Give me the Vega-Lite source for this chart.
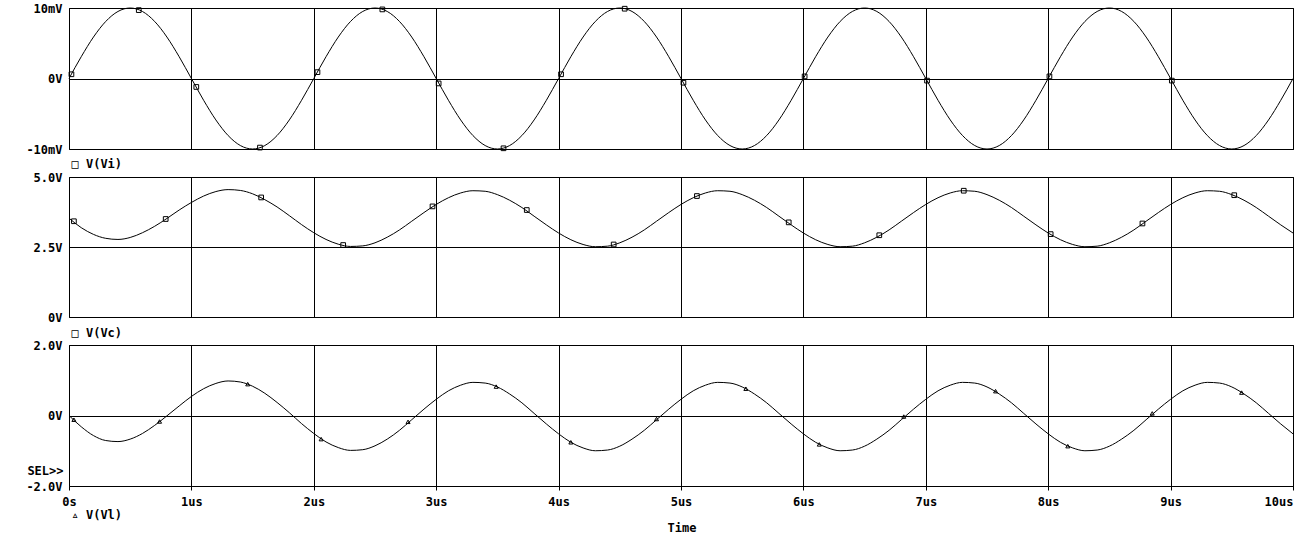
{
  "$schema": "https://vega.github.io/schema/vega-lite/v6.json",
  "background": "white",
  "padding": {"left": 8, "top": 1, "right": 8, "bottom": 0},
  "autosize": {"type": "pad"},
  "bounds": "flush",
  "spacing": 28,
  "title": {"text": "Time", "orient": "bottom", "anchor": "middle", "font": "DejaVu Sans Mono", "fontSize": 12, "fontWeight": "bold", "color": "black", "offset": 2, "dx": 30},
  "config": {
    "view": {"stroke": "black", "strokeWidth": 1},
    "axis": {
      "labelFont": "DejaVu Sans Mono", "labelFontWeight": "bold", "labelFontSize": 12, "labelColor": "black",
      "titleFont": "DejaVu Sans Mono", "titleFontWeight": "bold", "titleFontSize": 12, "titleColor": "black",
      "gridColor": "black", "gridOpacity": 1, "gridWidth": 1, "domain": false, "ticks": false
    }
  },
  "datasets": {
    "sig": [
      {"t":0.0,"vi":0,"vc":3.53,"vl":0.00},
      {"t":0.1,"vi":3.09,"vc":3.19,"vl":-0.32},
      {"t":0.2,"vi":5.88,"vc":2.95,"vl":-0.57},
      {"t":0.3,"vi":8.09,"vc":2.81,"vl":-0.71},
      {"t":0.4,"vi":9.51,"vc":2.77,"vl":-0.74},
      {"t":0.5,"vi":10,"vc":2.84,"vl":-0.67},
      {"t":0.6,"vi":9.51,"vc":3.01,"vl":-0.51},
      {"t":0.7,"vi":8.09,"vc":3.24,"vl":-0.28},
      {"t":0.8,"vi":5.88,"vc":3.52,"vl":-0.01},
      {"t":0.9,"vi":3.09,"vc":3.82,"vl":0.27},
      {"t":1.0,"vi":0,"vc":4.09,"vl":0.54},
      {"t":1.1,"vi":-3.09,"vc":4.32,"vl":0.76},
      {"t":1.2,"vi":-5.88,"vc":4.48,"vl":0.91},
      {"t":1.3,"vi":-8.09,"vc":4.55,"vl":0.98},
      {"t":1.4,"vi":-9.51,"vc":4.52,"vl":0.95},
      {"t":1.5,"vi":-10,"vc":4.40,"vl":0.83},
      {"t":1.6,"vi":-9.51,"vc":4.19,"vl":0.63},
      {"t":1.7,"vi":-8.09,"vc":3.93,"vl":0.37},
      {"t":1.8,"vi":-5.88,"vc":3.62,"vl":0.08},
      {"t":1.9,"vi":-3.09,"vc":3.30,"vl":-0.23},
      {"t":2.0,"vi":0,"vc":3.01,"vl":-0.51},
      {"t":2.1,"vi":3.09,"vc":2.77,"vl":-0.75},
      {"t":2.2,"vi":5.88,"vc":2.60,"vl":-0.91},
      {"t":2.3,"vi":8.09,"vc":2.52,"vl":-0.99},
      {"t":2.4,"vi":9.51,"vc":2.54,"vl":-0.97},
      {"t":2.5,"vi":10,"vc":2.65,"vl":-0.86},
      {"t":2.6,"vi":9.51,"vc":2.85,"vl":-0.67},
      {"t":2.7,"vi":8.09,"vc":3.11,"vl":-0.42},
      {"t":2.8,"vi":5.88,"vc":3.42,"vl":-0.12},
      {"t":2.9,"vi":3.09,"vc":3.73,"vl":0.18},
      {"t":3.0,"vi":0,"vc":4.02,"vl":0.46},
      {"t":3.1,"vi":-3.09,"vc":4.26,"vl":0.70},
      {"t":3.2,"vi":-5.88,"vc":4.43,"vl":0.86},
      {"t":3.3,"vi":-8.09,"vc":4.51,"vl":0.94},
      {"t":3.4,"vi":-9.51,"vc":4.49,"vl":0.92},
      {"t":3.5,"vi":-10,"vc":4.37,"vl":0.81},
      {"t":3.6,"vi":-9.51,"vc":4.17,"vl":0.61},
      {"t":3.7,"vi":-8.09,"vc":3.91,"vl":0.36},
      {"t":3.8,"vi":-5.88,"vc":3.60,"vl":0.06},
      {"t":3.9,"vi":-3.09,"vc":3.29,"vl":-0.24},
      {"t":4.0,"vi":0,"vc":3.00,"vl":-0.52},
      {"t":4.1,"vi":3.09,"vc":2.76,"vl":-0.76},
      {"t":4.2,"vi":5.88,"vc":2.59,"vl":-0.92},
      {"t":4.3,"vi":8.09,"vc":2.51,"vl":-1.00},
      {"t":4.4,"vi":9.51,"vc":2.53,"vl":-0.98},
      {"t":4.5,"vi":10,"vc":2.65,"vl":-0.87},
      {"t":4.6,"vi":9.51,"vc":2.85,"vl":-0.67},
      {"t":4.7,"vi":8.09,"vc":3.11,"vl":-0.42},
      {"t":4.8,"vi":5.88,"vc":3.42,"vl":-0.12},
      {"t":4.9,"vi":3.09,"vc":3.73,"vl":0.18},
      {"t":5.0,"vi":0,"vc":4.02,"vl":0.46},
      {"t":5.1,"vi":-3.09,"vc":4.26,"vl":0.70},
      {"t":5.2,"vi":-5.88,"vc":4.43,"vl":0.86},
      {"t":5.3,"vi":-8.09,"vc":4.51,"vl":0.94},
      {"t":5.4,"vi":-9.51,"vc":4.49,"vl":0.92},
      {"t":5.5,"vi":-10,"vc":4.37,"vl":0.81},
      {"t":5.6,"vi":-9.51,"vc":4.17,"vl":0.61},
      {"t":5.7,"vi":-8.09,"vc":3.91,"vl":0.36},
      {"t":5.8,"vi":-5.88,"vc":3.60,"vl":0.06},
      {"t":5.9,"vi":-3.09,"vc":3.29,"vl":-0.24},
      {"t":6.0,"vi":0,"vc":3.00,"vl":-0.52},
      {"t":6.1,"vi":3.09,"vc":2.76,"vl":-0.76},
      {"t":6.2,"vi":5.88,"vc":2.59,"vl":-0.92},
      {"t":6.3,"vi":8.09,"vc":2.51,"vl":-1.00},
      {"t":6.4,"vi":9.51,"vc":2.53,"vl":-0.98},
      {"t":6.5,"vi":10,"vc":2.65,"vl":-0.87},
      {"t":6.6,"vi":9.51,"vc":2.85,"vl":-0.67},
      {"t":6.7,"vi":8.09,"vc":3.11,"vl":-0.42},
      {"t":6.8,"vi":5.88,"vc":3.42,"vl":-0.12},
      {"t":6.9,"vi":3.09,"vc":3.73,"vl":0.18},
      {"t":7.0,"vi":0,"vc":4.02,"vl":0.46},
      {"t":7.1,"vi":-3.09,"vc":4.26,"vl":0.70},
      {"t":7.2,"vi":-5.88,"vc":4.43,"vl":0.86},
      {"t":7.3,"vi":-8.09,"vc":4.51,"vl":0.94},
      {"t":7.4,"vi":-9.51,"vc":4.49,"vl":0.92},
      {"t":7.5,"vi":-10,"vc":4.37,"vl":0.81},
      {"t":7.6,"vi":-9.51,"vc":4.17,"vl":0.61},
      {"t":7.7,"vi":-8.09,"vc":3.91,"vl":0.36},
      {"t":7.8,"vi":-5.88,"vc":3.60,"vl":0.06},
      {"t":7.9,"vi":-3.09,"vc":3.29,"vl":-0.24},
      {"t":8.0,"vi":0,"vc":3.00,"vl":-0.52},
      {"t":8.1,"vi":3.09,"vc":2.76,"vl":-0.76},
      {"t":8.2,"vi":5.88,"vc":2.59,"vl":-0.92},
      {"t":8.3,"vi":8.09,"vc":2.51,"vl":-1.00},
      {"t":8.4,"vi":9.51,"vc":2.53,"vl":-0.98},
      {"t":8.5,"vi":10,"vc":2.65,"vl":-0.87},
      {"t":8.6,"vi":9.51,"vc":2.85,"vl":-0.67},
      {"t":8.7,"vi":8.09,"vc":3.11,"vl":-0.42},
      {"t":8.8,"vi":5.88,"vc":3.42,"vl":-0.12},
      {"t":8.9,"vi":3.09,"vc":3.73,"vl":0.18},
      {"t":9.0,"vi":0,"vc":4.02,"vl":0.46},
      {"t":9.1,"vi":-3.09,"vc":4.26,"vl":0.70},
      {"t":9.2,"vi":-5.88,"vc":4.43,"vl":0.86},
      {"t":9.3,"vi":-8.09,"vc":4.51,"vl":0.94},
      {"t":9.4,"vi":-9.51,"vc":4.49,"vl":0.92},
      {"t":9.5,"vi":-10,"vc":4.37,"vl":0.81},
      {"t":9.6,"vi":-9.51,"vc":4.17,"vl":0.61},
      {"t":9.7,"vi":-8.09,"vc":3.91,"vl":0.36},
      {"t":9.8,"vi":-5.88,"vc":3.60,"vl":0.06},
      {"t":9.9,"vi":-3.09,"vc":3.29,"vl":-0.24},
      {"t":10.0,"vi":0,"vc":3.00,"vl":-0.52}
    ],
    "mvi": [
      {"t":0.02,"vi":0.6},{"t":0.57,"vi":9.7},{"t":1.04,"vi":-1.2},{"t":1.56,"vi":-9.8},
      {"t":2.03,"vi":0.9},{"t":2.56,"vi":9.8},{"t":3.02,"vi":-0.7},{"t":3.55,"vi":-9.9},
      {"t":4.02,"vi":0.6},{"t":4.54,"vi":9.9},{"t":5.02,"vi":-0.6},{"t":6.01,"vi":0.3},
      {"t":7.01,"vi":-0.3},{"t":8.01,"vi":0.3},{"t":9.01,"vi":-0.3}
    ],
    "mvc": [
      {"t":0.04,"vc":3.42},{"t":0.79,"vc":3.50},{"t":1.57,"vc":4.27},{"t":2.24,"vc":2.57},
      {"t":2.97,"vc":3.95},{"t":3.74,"vc":3.82},{"t":4.45,"vc":2.59},{"t":5.13,"vc":4.32},
      {"t":5.88,"vc":3.38},{"t":6.62,"vc":2.92},{"t":7.31,"vc":4.51},{"t":8.02,"vc":2.96},
      {"t":8.77,"vc":3.34},{"t":9.52,"vc":4.35}
    ],
    "mvl": [
      {"t":0.04,"vl":-0.12},{"t":0.74,"vl":-0.17},{"t":1.46,"vl":0.89},{"t":2.06,"vl":-0.67},
      {"t":2.77,"vl":-0.18},{"t":3.49,"vl":0.82},{"t":4.10,"vl":-0.76},{"t":4.80,"vl":-0.10},
      {"t":5.53,"vl":0.76},{"t":6.13,"vl":-0.82},{"t":6.82,"vl":-0.03},{"t":7.57,"vl":0.69},
      {"t":8.16,"vl":-0.87},{"t":8.85,"vl":0.06},{"t":9.58,"vl":0.65}
    ]
  },
  "vconcat": [
    {
      "width": 1224, "height": 141,
      "encoding": {
        "x": {"field": "t", "type": "quantitative", "scale": {"domain": [0, 10], "nice": false, "zero": false},
              "axis": {"values": [0,1,2,3,4,5,6,7,8,9,10], "grid": true, "labels": false, "title": "□ V(Vi)", "titleAnchor": "start", "titleAlign": "left", "titleBaseline": "middle", "titleX": 2, "titleY": 14}},
        "y": {"field": "vi", "type": "quantitative", "scale": {"domain": [-10, 10], "nice": false},
              "axis": {"values": [-10, 0, 10], "grid": true, "title": null, "labelPadding": 7, "minExtent": 60, "maxExtent": 60,
                       "labelExpr": "datum.value == 0 ? '0V' : datum.value + 'mV'"}}
      },
      "layer": [
        {"data": {"name": "sig"}, "mark": {"type": "line", "color": "black", "strokeWidth": 1, "interpolate": "monotone"}},
        {"data": {"name": "mvi"}, "mark": {"type": "point", "shape": "square", "filled": false, "color": "black", "size": 22, "strokeWidth": 1, "opacity": 1}}
      ]
    },
    {
      "width": 1224, "height": 140,
      "encoding": {
        "x": {"field": "t", "type": "quantitative", "scale": {"domain": [0, 10], "nice": false, "zero": false},
              "axis": {"values": [0,1,2,3,4,5,6,7,8,9,10], "grid": true, "labels": false, "title": "□ V(Vc)", "titleAnchor": "start", "titleAlign": "left", "titleBaseline": "middle", "titleX": 2, "titleY": 15}},
        "y": {"field": "vc", "type": "quantitative", "scale": {"domain": [0, 5], "nice": false, "zero": false},
              "axis": {"values": [0, 2.5, 5], "grid": true, "title": null, "labelPadding": 7, "minExtent": 60, "maxExtent": 60,
                       "labelExpr": "datum.value == 0 ? '0V' : datum.value == 5 ? '5.0V' : '2.5V'"}}
      },
      "layer": [
        {"data": {"name": "sig"}, "mark": {"type": "line", "color": "black", "strokeWidth": 1, "interpolate": "monotone"}},
        {"data": {"name": "mvc"}, "mark": {"type": "point", "shape": "square", "filled": false, "color": "black", "size": 22, "strokeWidth": 1, "opacity": 1}}
      ]
    },
    {
      "width": 1224, "height": 141,
      "encoding": {
        "x": {"field": "t", "type": "quantitative", "scale": {"domain": [0, 10], "nice": false, "zero": false},
              "axis": {"values": [0,1,2,3,4,5,6,7,8,9,10], "grid": true, "labels": true, "ticks": true, "tickSize": 4, "tickColor": "black", "labelPadding": 6,
                       "labelExpr": "datum.value == 0 ? '0s' : datum.value + 'us'",
                       "labelAlign": {"condition": {"test": "datum.value == 10", "value": "right"}, "value": "center"},
                       "title": "▵ V(Vl)", "titleAnchor": "start", "titleAlign": "left", "titleBaseline": "middle", "titleX": 2, "titleY": 28}},
        "y": {"field": "vl", "type": "quantitative", "scale": {"domain": [-2, 2], "nice": false},
              "axis": {"values": [-2, 0, 2], "grid": true, "labelPadding": 7, "minExtent": 60, "maxExtent": 60,
                       "labelExpr": "datum.value == 0 ? '0V' : datum.value < 0 ? '-2.0V' : '2.0V'",
                       "title": "SEL>>", "titleAngle": 0, "titleAlign": "right", "titleBaseline": "middle", "titleX": -6, "titleY": 125}}
      },
      "layer": [
        {"data": {"name": "sig"}, "mark": {"type": "line", "color": "black", "strokeWidth": 1, "interpolate": "monotone"}},
        {"data": {"name": "mvl"}, "mark": {"type": "point", "shape": "triangle-up", "filled": false, "color": "black", "size": 16, "strokeWidth": 1, "opacity": 1}}
      ]
    }
  ]
}
